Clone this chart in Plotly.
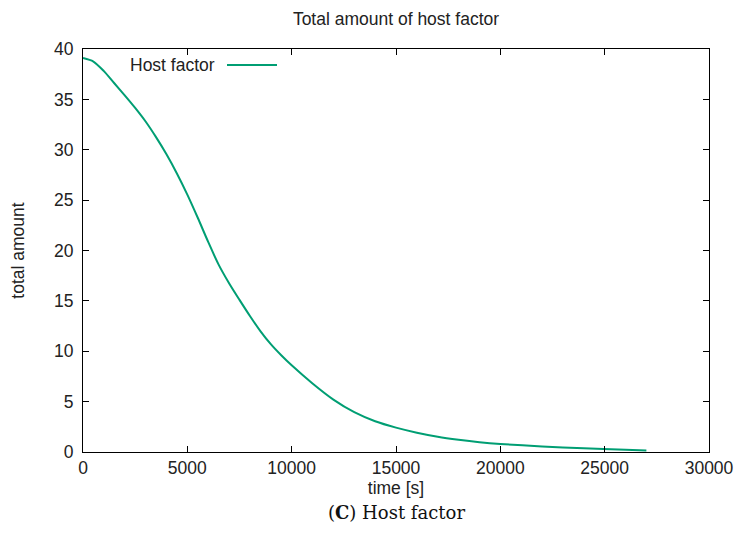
import plotly.graph_objects as go

# Total host factor over time
time_s = [0, 500, 1000, 1500, 2000, 2500, 3000, 3500, 4000, 4500, 5000,
          5500, 6000, 6500, 7000, 7500, 8000, 8500, 9000, 9500, 10000,
          11000, 12000, 13000, 14000, 15000, 16000, 17000, 18000, 19000,
          20000, 22000, 24000, 26000, 27000]
host_factor = [39.1, 38.75, 37.8, 36.6, 35.4, 34.15, 32.8, 31.25, 29.55,
               27.65, 25.55, 23.25, 20.85, 18.6, 16.75, 15.1, 13.5, 12.0,
               10.7, 9.6, 8.6, 6.8, 5.2, 3.95, 3.05, 2.42, 1.92, 1.52, 1.22,
               0.98, 0.8, 0.55, 0.36, 0.22, 0.16]

x_ticks = [0, 5000, 10000, 15000, 20000, 25000, 30000]
y_ticks = [0, 5, 10, 15, 20, 25, 30, 35, 40]

line_color = "#009E73"
font_family = "Liberation Sans, Arial, sans-serif"
fs = 17.5

fig = go.Figure()
fig.add_trace(go.Scatter(
    x=time_s, y=host_factor, mode="lines", name="Host factor",
    line=dict(color=line_color, width=2, shape="spline", smoothing=0.8),
    showlegend=False,
))

axis_common = dict(
    showline=True, linecolor="black", linewidth=1, mirror="ticks",
    ticks="inside", ticklen=6, tickcolor="black", tickwidth=1,
    showgrid=False, zeroline=False, automargin=False,
    tickfont=dict(family=font_family, size=fs, color="#222"),
)

fig.update_xaxes(range=[0, 30000], tickvals=x_ticks,
                 ticktext=[str(v) for v in x_ticks],
                 title=dict(text="time [s]", font=dict(family=font_family, size=fs, color="#222"), standoff=4),
                 **axis_common)
fig.update_yaxes(range=[0, 40], tickvals=y_ticks, ticklabelstandoff=5,
                 title=dict(text="total amount", font=dict(family=font_family, size=fs, color="#222"), standoff=24),
                 **axis_common)

# gnuplot-style key: label followed by a line sample
plot_w = 709 - 83
plot_h = 452 - 49
fig.add_annotation(
    x=(217 - 83) / plot_w, y=(452 - 65) / plot_h, xref="paper", yref="paper",
    text="Host factor", showarrow=False, xanchor="right", yanchor="middle",
    font=dict(family=font_family, size=fs, color="#222"),
)
fig.add_shape(
    type="line", xref="paper", yref="paper",
    x0=(227 - 83) / plot_w, x1=(277 - 83) / plot_w,
    y0=(452 - 65) / plot_h, y1=(452 - 65) / plot_h,
    line=dict(color=line_color, width=2),
)

# Caption beneath the chart
fig.add_annotation(
    x=0.5, y=(452 - 512) / plot_h, xref="paper", yref="paper",
    text="(<b>C</b>) Host factor", showarrow=False, xanchor="center", yanchor="middle",
    font=dict(family="DejaVu Serif, Liberation Serif, serif", size=18, color="#111"),
)

fig.update_layout(
    width=737, height=549,
    margin=dict(l=83, r=28, t=49, b=97),
    paper_bgcolor="white", plot_bgcolor="white",
    title=dict(text="Total amount of host factor", x=0.5, xref="paper",
               y=1 - 19 / 549, yanchor="middle",
               font=dict(family=font_family, size=fs, color="#222")),
)

fig.write_html("out.html")
